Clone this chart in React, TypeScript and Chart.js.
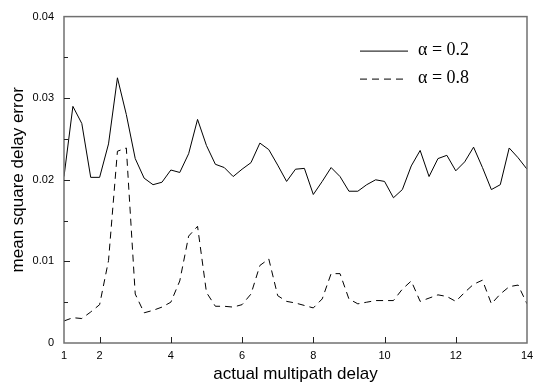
import React, { useEffect, useRef } from "react";
import { Chart, registerables } from "chart.js";

Chart.register(...registerables);

const delays = [
  1, 1.25, 1.5, 1.75, 2, 2.25, 2.5, 2.75, 3, 3.25, 3.5, 3.75, 4, 4.25, 4.5, 4.75,
  5, 5.25, 5.5, 5.75, 6, 6.25, 6.5, 6.75, 7, 7.25, 7.5, 7.75, 8, 8.25, 8.5, 8.75,
  9, 9.25, 9.5, 9.75, 10, 10.25, 10.5, 10.75, 11, 11.25, 11.5, 11.75, 12, 12.25,
  12.5, 12.75, 13, 13.25, 13.5, 13.75, 14,
];

const alpha02 = [
  0.0204, 0.029, 0.0269, 0.0203, 0.0203, 0.0244, 0.0325, 0.028, 0.0226, 0.0202,
  0.0194, 0.0197, 0.0212, 0.0209, 0.0232, 0.0274, 0.0242, 0.0219, 0.0215, 0.0204,
  0.0213, 0.0221, 0.0245, 0.0237, 0.0218, 0.0198, 0.0213, 0.0214, 0.0182, 0.0198,
  0.0215, 0.0204, 0.0186, 0.0186, 0.0194, 0.02, 0.0198, 0.0178, 0.0188, 0.0217,
  0.0236, 0.0204, 0.0226, 0.023, 0.0211, 0.0222, 0.024, 0.0215, 0.0188, 0.0194,
  0.0239, 0.0227, 0.0213,
];

const alpha08 = [
  0.0027, 0.0031, 0.003, 0.0038, 0.0047, 0.0101, 0.0235, 0.0239, 0.006, 0.0037,
  0.004, 0.0044, 0.005, 0.0076, 0.0131, 0.0143, 0.0062, 0.0045, 0.0045, 0.0044,
  0.0047, 0.006, 0.0095, 0.0103, 0.0058, 0.0051, 0.0049, 0.0046, 0.0043, 0.0054,
  0.0085, 0.0085, 0.0054, 0.0048, 0.005, 0.0052, 0.0052, 0.0052, 0.0066, 0.0076,
  0.0051, 0.0055, 0.0059, 0.0057, 0.0051, 0.0062, 0.0072, 0.0077, 0.0048, 0.006,
  0.0069, 0.0071, 0.0048,
];

const xTickValues = [1, 2, 4, 6, 8, 10, 12, 14];
const yTickValues = [0, 0.01, 0.02, 0.03, 0.04];
const yMinorTicks = [0.005, 0.015, 0.025, 0.035];
const legendLabels = ["α = 0.2", "α = 0.8"];

const SANS = "'Liberation Sans', Arial, Helvetica, sans-serif";
const SERIF = "'Liberation Serif', 'Times New Roman', serif";

const framePlugin = {
  id: "frameAndLegend",
  afterDatasetsDraw(chart: any) {
    const { ctx, chartArea, scales } = chart;
    const { left, right, top, bottom } = chartArea;
    const x = scales.x;
    const y = scales.y;
    ctx.save();
    // frame
    ctx.strokeStyle = "#707070";
    ctx.lineWidth = 1.5;
    ctx.setLineDash([]);
    ctx.strokeRect(left, top, right - left, bottom - top);

    // ticks
    ctx.strokeStyle = "#222";
    ctx.lineWidth = 1;
    ctx.beginPath();
    xTickValues
      .filter((v) => v > x.min && v < x.max)
      .forEach((v) => {
        const px = Math.round(x.getPixelForValue(v)) + 0.5;
        ctx.moveTo(px, bottom);
        ctx.lineTo(px, bottom - 6);
      });
    yTickValues
      .filter((v) => v > y.min && v < y.max)
      .forEach((v) => {
        const py = Math.round(y.getPixelForValue(v)) + 0.5;
        ctx.moveTo(left, py);
        ctx.lineTo(left + 6, py);
      });
    yMinorTicks.forEach((v) => {
      const py = Math.round(y.getPixelForValue(v)) + 0.5;
      ctx.moveTo(left, py);
      ctx.lineTo(left + 4, py);
    });
    ctx.stroke();

    // legend
    const lx0 = left + 296;
    const lx1 = left + 344;
    const rows = [top + 34, top + 62];
    chart.data.datasets.forEach((ds: any, i: number) => {
      const ly = rows[i] + 0.5;
      ctx.strokeStyle = "#000";
      ctx.lineWidth = 1;
      ctx.setLineDash(ds.borderDash || []);
      ctx.beginPath();
      ctx.moveTo(lx0, ly);
      ctx.lineTo(lx1, ly);
      ctx.stroke();
      ctx.setLineDash([]);
      ctx.fillStyle = "#000";
      ctx.font = `18px ${SERIF}`;
      ctx.textBaseline = "middle";
      ctx.textAlign = "left";
      ctx.fillText(legendLabels[i], lx1 + 10, rows[i]);
    });
    ctx.restore();
  },
};

export default function App() {
  const canvasRef = useRef<HTMLCanvasElement | null>(null);

  useEffect(() => {
    const canvas = canvasRef.current;
    if (!canvas) return;
    const chart = new Chart(canvas, {
      type: "line",
      data: {
        datasets: [
          {
            label: legendLabels[0],
            data: delays.map((d, i) => ({ x: d, y: alpha02[i] })),
            borderColor: "#000",
            borderWidth: 1,
            pointRadius: 0,
            fill: false,
            tension: 0,
          },
          {
            label: legendLabels[1],
            data: delays.map((d, i) => ({ x: d, y: alpha08[i] })),
            borderColor: "#000",
            borderWidth: 1,
            borderDash: [7, 5],
            pointRadius: 0,
            fill: false,
            tension: 0,
          },
        ],
      },
      options: {
        animation: false,
        responsive: false,
        maintainAspectRatio: false,
        layout: { padding: { top: 13, right: 13, left: 0, bottom: 0 } },
        plugins: {
          legend: { display: false },
          tooltip: { enabled: false },
        },
        scales: {
          x: {
            type: "linear",
            min: 1,
            max: 14,
            grid: { display: false, drawTicks: false },
            border: { display: false },
            afterBuildTicks: (s: any) => {
              s.ticks = xTickValues.map((v) => ({ value: v }));
            },
            afterFit: (s: any) => {
              s.height = 42;
            },
            ticks: {
              autoSkip: false,
              maxRotation: 0,
              padding: 6,
              color: "#000",
              font: { family: SANS, size: 11 },
              callback: (v: any) => String(v),
            },
            title: {
              display: true,
              text: "actual multipath delay",
              color: "#000",
              font: { family: SANS, size: 17 },
              padding: { top: 0, bottom: 0 },
            },
          },
          y: {
            type: "linear",
            min: 0,
            max: 0.04,
            grid: { display: false, drawTicks: false },
            border: { display: false },
            afterBuildTicks: (s: any) => {
              s.ticks = yTickValues.map((v) => ({ value: v }));
            },
            afterFit: (s: any) => {
              s.width = 64;
            },
            ticks: {
              padding: 10,
              color: "#000",
              font: { family: SANS, size: 11 },
              callback: (v: any) => (v === 0 ? "0" : Number(v).toFixed(2)),
            },
            title: {
              display: true,
              text: "mean square delay error",
              color: "#000",
              font: { family: SANS, size: 17 },
              padding: { top: 8, bottom: 0 },
            },
          },
        },
      },
      plugins: [framePlugin],
    });
    return () => chart.destroy();
  }, []);

  return (
    <div style={{ position: "fixed", left: 0, top: 0, width: 540, height: 385, background: "#fff" }}>
      <canvas ref={canvasRef} width={540} height={385} style={{ display: "block" }} />
    </div>
  );
}
